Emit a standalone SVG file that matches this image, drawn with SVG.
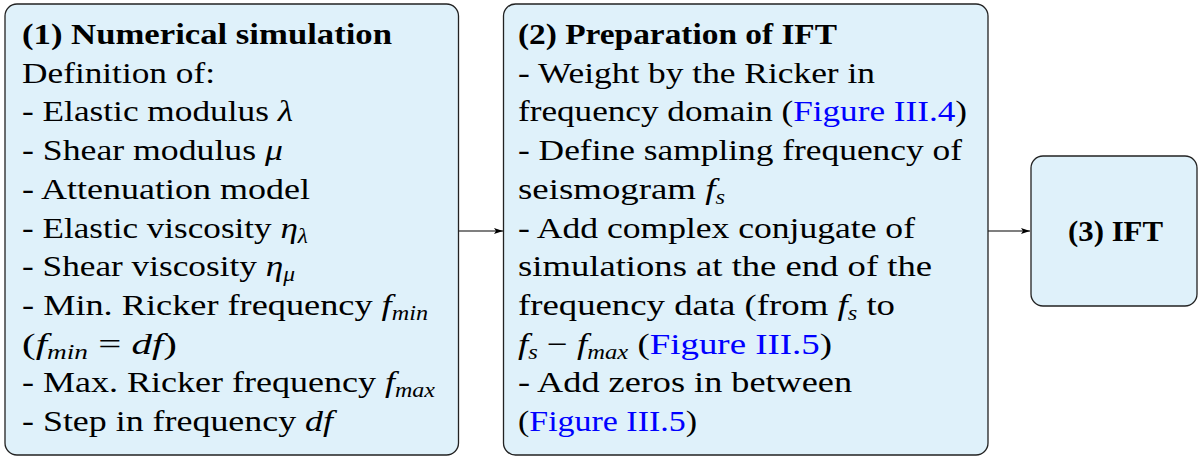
<svg xmlns="http://www.w3.org/2000/svg" width="1198" height="457" viewBox="0 0 1198 457">
<style>
.box{fill:#dff1fa;stroke:#222;stroke-width:1.3}
text{font-family:"Liberation Serif","Times New Roman",serif;font-size:30px;fill:#000}
.b{font-weight:bold}
.i{font-style:italic}
.s{font-size:20px}
.l{fill:#0000ff}
.c{stroke:#000;stroke-width:1.2;fill:none}
</style>
<defs>
<marker id="ah" markerUnits="userSpaceOnUse" markerWidth="10" markerHeight="8" refX="9" refY="4" orient="auto">
<path d="M0,1 L9,4 L0,7 L2,4 z" fill="#000"/>
</marker>
</defs>
<rect width="1198" height="457" fill="#fff"/>
<g id="connectors">
<line class="c" x1="459" y1="231" x2="503" y2="231" marker-end="url(#ah)"/>
<line class="c" x1="988" y1="231" x2="1030" y2="231" marker-end="url(#ah)"/>
</g>
<g id="node1">
<rect class="box" x="5" y="4" width="453.5" height="451" rx="12"/>
<text x="22" y="44" class="b" textLength="370" lengthAdjust="spacingAndGlyphs">(1) Numerical simulation</text>
<text x="22" y="82.7" textLength="193" lengthAdjust="spacingAndGlyphs">Definition of:</text>
<text x="22" y="121.4" textLength="271" lengthAdjust="spacingAndGlyphs">- Elastic modulus <tspan class="i">λ</tspan></text>
<text x="22" y="160.1" textLength="261" lengthAdjust="spacingAndGlyphs">- Shear modulus <tspan class="i">μ</tspan></text>
<text x="22" y="198.8" textLength="288" lengthAdjust="spacingAndGlyphs">- Attenuation model</text>
<text x="22" y="237.5" textLength="286" lengthAdjust="spacingAndGlyphs">- Elastic viscosity <tspan class="i">η</tspan><tspan class="i s" dy="5">λ</tspan></text>
<text x="22" y="276.2" textLength="273" lengthAdjust="spacingAndGlyphs">- Shear viscosity <tspan class="i">η</tspan><tspan class="i s" dy="5">μ</tspan></text>
<text x="22" y="314.9" textLength="406" lengthAdjust="spacingAndGlyphs">- Min. Ricker frequency <tspan class="i">f</tspan><tspan class="i s" dy="5">min</tspan></text>
<text x="22" y="353.6" textLength="155" lengthAdjust="spacingAndGlyphs">(<tspan class="i">f</tspan><tspan class="i s" dy="5">min</tspan><tspan dy="-5"> = </tspan><tspan class="i">df</tspan>)</text>
<text x="22" y="392.3" textLength="413" lengthAdjust="spacingAndGlyphs">- Max. Ricker frequency <tspan class="i">f</tspan><tspan class="i s" dy="5">max</tspan></text>
<text x="22" y="431" textLength="311" lengthAdjust="spacingAndGlyphs">- Step in frequency <tspan class="i">df</tspan></text>
</g>
<g id="node2">
<rect class="box" x="503.5" y="4" width="484.5" height="451" rx="12"/>
<text x="518" y="44" class="b" textLength="319" lengthAdjust="spacingAndGlyphs">(2) Preparation of IFT</text>
<text x="518" y="82.7" textLength="357" lengthAdjust="spacingAndGlyphs">- Weight by the Ricker in</text>
<text x="518" y="121.4" textLength="449" lengthAdjust="spacingAndGlyphs">frequency domain (<tspan class="l">Figure III.4</tspan>)</text>
<text x="518" y="160.1" textLength="444" lengthAdjust="spacingAndGlyphs">- Define sampling frequency of</text>
<text x="518" y="198.8" textLength="207" lengthAdjust="spacingAndGlyphs">seismogram <tspan class="i">f</tspan><tspan class="i s" dy="5">s</tspan></text>
<text x="518" y="237.5" textLength="397" lengthAdjust="spacingAndGlyphs">- Add complex conjugate of</text>
<text x="518" y="276.2" textLength="414" lengthAdjust="spacingAndGlyphs">simulations at the end of the</text>
<text x="518" y="314.9" textLength="377" lengthAdjust="spacingAndGlyphs">frequency data (from <tspan class="i">f</tspan><tspan class="i s" dy="5">s</tspan><tspan dy="-5"> to</tspan></text>
<text x="518" y="353.6" textLength="314" lengthAdjust="spacingAndGlyphs"><tspan class="i">f</tspan><tspan class="i s" dy="5">s</tspan><tspan dy="-5"> − </tspan><tspan class="i">f</tspan><tspan class="i s" dy="5">max</tspan><tspan dy="-5"> (</tspan><tspan class="l">Figure III.5</tspan>)</text>
<text x="518" y="392.3" textLength="334" lengthAdjust="spacingAndGlyphs">- Add zeros in between</text>
<text x="518" y="431" textLength="179" lengthAdjust="spacingAndGlyphs">(<tspan class="l">Figure III.5</tspan>)</text>
</g>
<g id="node3">
<rect class="box" x="1031" y="156" width="166" height="150" rx="12"/>
<text x="1068" y="241" class="b" textLength="95" lengthAdjust="spacingAndGlyphs">(3) IFT</text>
</g>
</svg>
